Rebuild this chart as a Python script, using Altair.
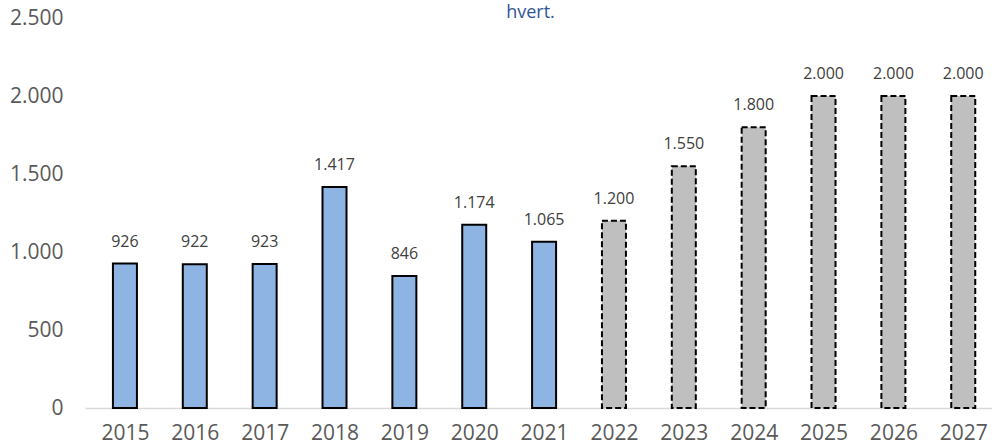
import altair as alt
import pandas as pd

years = [2015, 2016, 2017, 2018, 2019, 2020, 2021, 2022, 2023, 2024, 2025, 2026, 2027]
values = [926, 922, 923, 1417, 846, 1174, 1065, 1200, 1550, 1800, 2000, 2000, 2000]
kind = ["actual"] * 7 + ["forecast"] * 6

df = pd.DataFrame({"year": years, "value": values, "kind": kind})
df["label"] = [f"{v:,}".replace(",", ".") for v in values]

FONT = "Open Sans"

x = alt.X("year:Q",
          scale=alt.Scale(domain=[2014.5, 2027.34], nice=False, zero=False),
          axis=alt.Axis(values=years, format="d", title=None, ticks=False, grid=False,
                        domain=True, domainColor="#D9D9D9", domainWidth=1.5,
                        labelFont=FONT, labelFontSize=21, labelColor="#595959",
                        labelPadding=14, labelFlush=False))
y = alt.Y("value:Q",
          scale=alt.Scale(domain=[0, 2615.4], nice=False),
          axis=alt.Axis(values=[0, 500, 1000, 1500, 2000, 2500], title=None, ticks=False,
                        grid=False, domain=False,
                        labelExpr="replace(format(datum.value, ','), /,/g, '.')",
                        labelFont=FONT, labelFontSize=21, labelColor="#595959",
                        labelPadding=22))

base = alt.Chart(df)

actual = base.transform_filter(alt.datum.kind == "actual").mark_bar(
    size=24, color="#8EB4E3", stroke="black", strokeWidth=2
).encode(x=x, y=y)

forecast = base.transform_filter(alt.datum.kind == "forecast").mark_bar(
    size=24, color="#BFBFBF", stroke="black", strokeWidth=2, strokeDash=[6, 3]
).encode(x=x, y=y)

labels = base.mark_text(
    baseline="bottom", dy=-14, font=FONT, fontSize=16, color="#404040"
).encode(x=x, y=y, text="label:N")

chart = alt.layer(actual, forecast, labels).properties(
    width=907, height=408,
    background="white",
    title=alt.TitleParams("hvert.", font=FONT, fontSize=18, fontWeight="normal",
                          color="#2F5597", anchor="middle", offset=-22, dx=-8),
    autosize=alt.AutoSizeParams(type="none"),
    padding={"left": 85, "top": 0, "right": 0, "bottom": 39},
).configure_view(stroke=None)

chart.save("out.html", embed_options={"renderer": "svg", "actions": False})
